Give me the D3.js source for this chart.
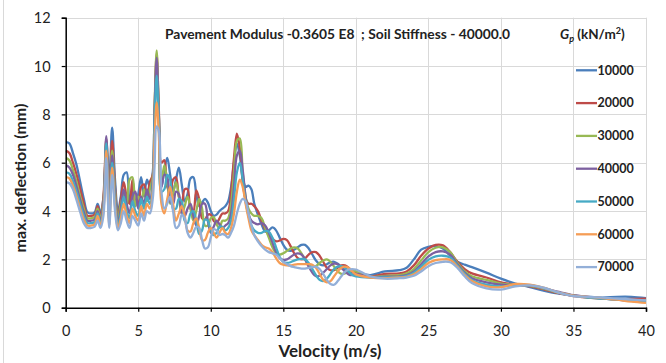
<!DOCTYPE html>
<html><head><meta charset="utf-8">
<script src="https://cdn.jsdelivr.net/npm/d3@7"></script>
<style>
html,body{margin:0;padding:0;background:#fff;}
svg{display:block;font-family:Lato,"Open Sans",sans-serif;}
</style></head>
<body>
<svg id="chart" width="666" height="363"></svg>
<script>
const velocity = [
 0,0.25,0.5,0.75,1,1.25,1.5,1.75,
 2,2.2,2.4,2.6,2.8,3,3.2,3.4,3.6,3.8,4,4.2,4.4,4.6,4.8,5,5.2,5.4,5.6,5.8,6,
 6.12,6.27,6.42,
 6.6,6.8,7,7.2,7.4,7.6,7.8,8,8.2,8.4,8.6,8.8,9,9.2,9.4,9.6,9.8,10,10.2,10.4,10.6,10.8,11,11.2,11.4,11.6,11.8,12,12.2,12.4,12.6,12.8,13,
 13.25,13.5,13.75,14,14.25,14.5,14.75,15,15.25,15.5,15.75,16,16.25,16.5,16.75,17,17.25,17.5,17.75,18,18.25,18.5,18.75,19,19.25,19.5,19.75,20,
 21,22,23,23.5,24,24.5,25,25.5,26,26.5,27,27.5,28,29,30,31,32,33,34,35,36,37,38,39,40
];
const gp10000 = [
 6.85,6.8,6.4,5.9,5.2,4.5,3.95,3.9,
 3.95,4.3,3.95,4.5,6.6,5.4,7.45,5.3,4.0,4.6,5.5,5.6,4.4,4.9,4.2,4.7,5.4,4.6,5.3,5.0,5.6,
 7.8,10.0,8.0,
 5.0,5.7,6.2,5.5,4.8,5.3,5.8,5.1,4.4,4.7,5.35,5.4,4.7,4.2,4.35,4.5,4.35,4.0,3.8,3.85,4.0,4.1,4.2,4.4,5.0,6.0,6.8,6.3,5.4,5.0,5.05,4.9,4.3,
 3.85,3.45,3.15,3.2,3.32,3.2,2.9,2.6,2.4,2.35,2.4,2.5,2.6,2.6,2.45,2.2,1.95,1.8,1.75,1.8,1.88,1.9,1.82,1.68,1.55,1.48,1.45,1.45,
 1.35,1.5,1.55,1.65,2.0,2.4,2.52,2.55,2.45,2.15,1.9,1.78,1.68,1.45,1.2,1.0,0.85,0.7,0.58,0.5,0.45,0.42,0.45,0.45,0.4
];
const gp20000 = [
 6.5,6.4,6.0,5.5,4.9,4.3,3.8,3.8,
 3.85,4.2,3.8,4.6,7.0,4.6,6.9,5.0,3.7,4.5,5.2,4.6,4.3,5.3,4.4,4.3,5.0,5.1,4.5,5.2,5.5,
 8.0,10.5,8.2,
 6.0,6.1,5.0,4.8,5.3,5.4,4.6,4.3,4.9,4.9,4.1,4.0,4.85,4.5,3.7,3.65,3.85,3.85,3.6,3.5,3.7,3.9,3.9,4.0,4.8,6.2,7.2,6.6,5.2,4.5,4.3,4.3,4.2,
 4.0,3.6,3.25,3.0,2.85,2.75,2.78,2.85,2.8,2.55,2.25,2.05,2.0,2.05,2.2,2.3,2.3,2.15,1.9,1.65,1.55,1.55,1.65,1.75,1.75,1.65,1.5,1.42,
 1.3,1.4,1.42,1.5,1.75,2.15,2.45,2.6,2.58,2.3,1.9,1.6,1.42,1.25,1.05,0.95,0.88,0.75,0.6,0.48,0.42,0.38,0.35,0.36,0.37
];
const gp30000 = [
 6.2,6.1,5.7,5.2,4.6,4.1,3.7,3.7,
 3.75,4.1,3.7,4.4,6.9,4.2,6.5,4.8,3.6,4.3,4.7,4.2,5.3,5.4,4.2,4.6,4.4,4.9,4.4,4.9,5.4,
 8.2,10.65,8.0,
 5.2,5.9,5.2,4.3,4.7,5.2,4.6,3.9,4.2,4.6,4.1,3.6,4.0,4.5,4.1,3.4,3.4,3.7,3.75,3.45,3.3,3.6,3.6,3.7,4.3,5.6,6.9,7.0,5.6,4.6,4.1,3.9,3.8,
 3.8,3.7,3.3,2.9,2.5,2.25,2.2,2.25,2.35,2.45,2.5,2.45,2.25,2.0,1.75,1.68,1.72,1.85,1.95,2.0,1.9,1.7,1.5,1.4,1.42,1.5,1.55,1.5,
 1.28,1.32,1.35,1.42,1.6,1.95,2.3,2.48,2.5,2.3,1.85,1.5,1.3,1.15,1.0,0.95,0.9,0.78,0.62,0.5,0.43,0.38,0.33,0.3,0.3
];
const gp40000 = [
 5.9,5.8,5.5,5.0,4.45,3.95,3.6,3.6,
 3.65,4.0,3.6,4.3,7.1,3.9,6.3,4.6,3.5,4.1,4.9,4.3,3.9,4.6,4.8,4.1,4.6,4.3,4.9,4.5,5.2,
 8.0,10.35,7.9,
 5.0,5.5,5.4,4.4,4.3,4.8,4.7,3.9,3.8,4.1,4.3,3.8,3.4,3.8,4.3,4.3,3.6,3.1,3.35,3.6,3.45,3.3,3.4,3.5,3.9,5.0,6.3,6.5,5.7,4.6,3.9,3.6,3.5,
 3.45,3.5,3.4,3.1,2.7,2.3,2.05,1.98,2.0,2.1,2.2,2.25,2.2,2.0,1.7,1.45,1.3,1.32,1.45,1.6,1.75,1.82,1.8,1.65,1.5,1.38,1.35,1.4,
 1.27,1.28,1.3,1.35,1.5,1.8,2.12,2.3,2.33,2.2,1.8,1.45,1.22,1.05,0.95,0.95,0.92,0.8,0.65,0.52,0.45,0.38,0.33,0.28,0.25
];
const gp50000 = [
 5.6,5.55,5.25,4.8,4.3,3.8,3.5,3.5,
 3.55,3.9,3.5,4.1,6.8,3.6,6.0,4.4,3.4,3.9,4.6,4.0,3.7,4.4,4.0,3.8,4.5,4.1,4.6,4.3,5.0,
 7.6,9.6,7.6,
 4.8,4.9,5.5,5.3,4.1,4.1,4.5,4.4,3.6,3.5,3.9,4.0,3.6,3.05,3.2,3.65,3.6,3.2,3.0,3.1,3.35,3.35,3.2,3.3,3.6,4.5,5.6,6.0,5.3,4.4,3.8,3.4,3.2,
 3.1,3.1,3.18,3.15,2.9,2.5,2.1,1.9,1.85,1.88,1.95,2.0,2.02,2.0,1.85,1.6,1.35,1.15,1.1,1.2,1.4,1.6,1.7,1.72,1.65,1.5,1.35,1.3,
 1.25,1.25,1.27,1.32,1.45,1.7,1.98,2.12,2.15,2.08,1.75,1.4,1.15,0.95,0.88,0.95,0.93,0.8,0.62,0.5,0.42,0.38,0.34,0.3,0.28
];
const gp60000 = [
 5.4,5.35,5.05,4.6,4.1,3.65,3.4,3.4,
 3.45,3.8,3.4,4.0,6.5,3.4,5.8,4.2,3.3,3.7,4.3,3.8,3.5,4.1,3.8,3.6,4.2,3.8,4.3,4.1,4.8,
 6.9,8.5,7.2,
 4.3,3.9,4.5,5.0,4.3,3.6,3.9,4.2,3.8,3.2,3.15,3.5,3.7,3.3,2.8,2.8,3.1,3.3,3.1,2.9,3.1,3.3,3.1,3.05,3.3,3.9,4.8,5.3,5.0,4.3,3.7,3.2,3.0,
 2.8,2.6,2.5,2.45,2.3,2.05,1.85,1.78,1.75,1.75,1.78,1.8,1.8,1.8,1.8,1.78,1.65,1.4,1.15,1.05,1.1,1.3,1.5,1.65,1.7,1.65,1.5,1.38,
 1.25,1.22,1.25,1.28,1.38,1.6,1.85,1.97,2.0,1.98,1.7,1.35,1.1,0.88,0.85,0.98,0.95,0.82,0.62,0.5,0.45,0.4,0.33,0.25,0.2
];
const gp70000 = [
 5.2,5.15,4.9,4.45,3.95,3.5,3.3,3.3,
 3.35,3.6,3.3,3.8,6.2,3.3,5.5,4.0,3.2,3.5,4.0,3.6,3.3,3.8,3.6,3.4,3.9,3.6,4.0,3.9,4.5,
 5.8,7.5,7.3,
 4.8,4.1,4.3,4.6,4.0,3.3,3.4,3.85,3.7,3.1,2.9,3.1,3.35,3.3,2.8,2.45,2.5,2.9,3.25,3.2,3.0,3.05,3.0,2.9,3.1,3.4,3.9,4.3,4.5,4.4,3.9,3.4,3.0,
 2.75,2.55,2.4,2.3,2.25,2.2,2.05,1.9,1.8,1.72,1.68,1.65,1.62,1.62,1.65,1.68,1.7,1.6,1.4,1.15,0.98,0.95,1.1,1.3,1.48,1.58,1.6,1.58,
 1.3,1.2,1.22,1.25,1.32,1.5,1.72,1.85,1.9,1.88,1.65,1.3,1.02,0.8,0.75,0.88,0.92,0.82,0.62,0.48,0.45,0.42,0.38,0.34,0.3
];
const seriesNames = ["10000","20000","30000","40000","50000","60000","70000"];
const seriesValues = [gp10000,gp20000,gp30000,gp40000,gp50000,gp60000,gp70000];
const seriesColors = ["#4a7ebb","#be4b48","#98b954","#7d60a0","#46aac5","#f59d56","#93afd8"];
const xTicks = [0,5,10,15,20,25,30,35,40];
const yTicks = [0,2,4,6,8,10,12];
const chartTitle = "Pavement Modulus -0.3605 E8  ; Soil Stiffness - 40000.0";

seriesValues.forEach((s,i)=>{ if(s.length!==velocity.length) console.error("length mismatch", seriesNames[i], s.length, velocity.length); });

const svg = d3.select("#chart");
const x = d3.scaleLinear().domain([0,40]).range([65.7,646]);
const y = d3.scaleLinear().domain([0,12]).range([307.7,17.7]);

svg.append("line").attr("x1",3.5).attr("x2",3.5).attr("y1",0).attr("y2",363).attr("stroke","#d9d9d9");

const grid = svg.append("g").attr("stroke","#d9d9d9").attr("stroke-width",1);
yTicks.filter(t=>t>0).forEach(t=>{
  grid.append("line").attr("x1",x(0)).attr("x2",x(40)).attr("y1",Math.round(y(t))+0.5).attr("y2",Math.round(y(t))+0.5);
});
xTicks.filter(t=>t>0).forEach(t=>{
  grid.append("line").attr("x1",Math.round(x(t))+0.5).attr("x2",Math.round(x(t))+0.5).attr("y1",y(12)).attr("y2",y(0));
});

const line = d3.line().x((d)=>x(d[0])).y(d=>y(d[1])).curve(d3.curveCatmullRom.alpha(0.5));
svg.append("defs").append("clipPath").attr("id","clip").append("rect")
  .attr("x",x(0)).attr("y",y(12)-2).attr("width",x(40)-x(0)+2).attr("height",y(0)-y(12)+2);
const lines = svg.append("g").attr("clip-path","url(#clip)");
seriesValues.forEach((vals,i)=>{
  lines.append("path").datum(velocity.map((v,j)=>[v,vals[j]]))
    .attr("fill","none").attr("stroke",seriesColors[i]).attr("stroke-width",2.3)
    .attr("stroke-linejoin","round").attr("d",line);
});

const xAxis = d3.axisBottom(x).tickValues(xTicks).tickSize(4).tickFormat(d3.format("d"));
const yAxis = d3.axisLeft(y).tickValues(yTicks).tickSize(4).tickFormat(d3.format("d"));
const gx = svg.append("g").attr("transform",`translate(0,${y(0)})`).call(xAxis);
const gy = svg.append("g").attr("transform",`translate(${x(0)},0)`).call(yAxis);
[gx,gy].forEach(g=>{
  g.select(".domain").attr("stroke","#000").attr("stroke-width",1.5);
  g.selectAll(".tick line").attr("stroke","#000").attr("stroke-width",1.2);
  g.selectAll(".tick text").attr("fill","#222").style("font-size","14.5px").style("font-family","Lato,sans-serif");
});
gx.selectAll(".tick text").attr("dy","0").attr("y",28);
gy.selectAll(".tick text").attr("x",-15).attr("dy","0.36em");

svg.append("text").attr("x",330).attr("y",357).attr("text-anchor","middle")
  .style("font-size","17px").style("font-weight","bold").attr("fill","#222").text("Velocity (m/s)");
svg.append("text").attr("transform","translate(26,178) rotate(-90)").attr("text-anchor","middle")
  .style("font-size","16px").style("font-weight","bold").attr("fill","#222").text("max. deflection (mm)");

svg.append("text").attr("x",165).attr("y",39).style("font-size","13.8px").style("font-weight","bold")
  .attr("fill","#222").attr("xml:space","preserve").style("white-space","pre").text(chartTitle);

const lt = svg.append("text").attr("x",560).attr("y",39).style("font-size","13.5px").style("font-weight","bold").attr("fill","#222");
lt.append("tspan").style("font-style","italic").text("G");
lt.append("tspan").style("font-style","italic").style("font-size","9px").attr("dy",3).text("p");
lt.append("tspan").attr("dy",-3).text(" (kN/m");
lt.append("tspan").style("font-size","9px").attr("dy",-5).text("2");
lt.append("tspan").attr("dy",5).text(")");

const legend = svg.append("g");
seriesNames.forEach((n,i)=>{
  const cy = 70.3 + i*32.8;
  legend.append("line").attr("x1",576).attr("x2",597).attr("y1",cy).attr("y2",cy)
    .attr("stroke",seriesColors[i]).attr("stroke-width",2.3);
  legend.append("text").attr("x",597.5).attr("y",cy).attr("dy","0.35em")
    .style("font-size","12.5px").style("font-weight","bold").attr("fill","#222").text(n);
});
</script>
</body></html>
